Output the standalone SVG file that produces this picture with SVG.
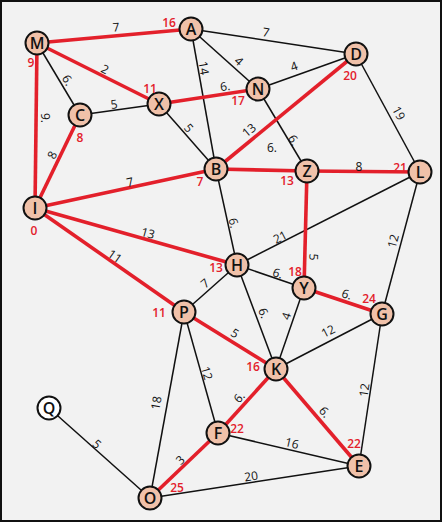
<svg xmlns="http://www.w3.org/2000/svg" width="442" height="522" viewBox="0 0 442 522">
<style>
.e{stroke:#111;stroke-width:1.5;fill:none}
.r{stroke:#e3202b;stroke-width:3.6;fill:none}
.n circle{fill:#f0c1a9;stroke:#111;stroke-width:2}
.n text{font-family:"Open Sans","Liberation Sans",sans-serif;font-size:16px;font-weight:600;fill:#111;text-anchor:middle;dominant-baseline:central}
.w{font-family:"Open Sans","Liberation Sans",sans-serif;font-size:12px;font-weight:500;fill:#111;text-anchor:middle;dominant-baseline:central}
.d{font-family:"Open Sans","Liberation Sans",sans-serif;font-size:12px;font-weight:600;fill:#e3202b;text-anchor:middle;dominant-baseline:central}
</style>
<rect x="1" y="1" width="440" height="520" fill="#f2f2f2" stroke="#111" stroke-width="2"/>
<g id="connectors">
<line class="e" x1="191" y1="29" x2="356" y2="54"/>
<line class="e" x1="191" y1="29" x2="258" y2="89"/>
<line class="e" x1="191" y1="29" x2="216" y2="169"/>
<line class="e" x1="258" y1="89" x2="356" y2="54"/>
<line class="e" x1="258" y1="89" x2="307" y2="171"/>
<line class="e" x1="356" y1="54" x2="420" y2="172"/>
<line class="e" x1="37" y1="43" x2="80" y2="115"/>
<line class="e" x1="80" y1="115" x2="159" y2="104"/>
<line class="e" x1="159" y1="104" x2="216" y2="169"/>
<line class="e" x1="216" y1="169" x2="237" y2="265"/>
<line class="e" x1="420" y1="172" x2="237" y2="265"/>
<line class="e" x1="420" y1="172" x2="382" y2="314"/>
<line class="e" x1="237" y1="265" x2="304" y2="288"/>
<line class="e" x1="237" y1="265" x2="184" y2="312"/>
<line class="e" x1="237" y1="265" x2="276" y2="369"/>
<line class="e" x1="304" y1="288" x2="276" y2="369"/>
<line class="e" x1="382" y1="314" x2="276" y2="369"/>
<line class="e" x1="382" y1="314" x2="359" y2="466"/>
<line class="e" x1="184" y1="312" x2="218" y2="433"/>
<line class="e" x1="184" y1="312" x2="150" y2="498"/>
<line class="e" x1="218" y1="433" x2="359" y2="466"/>
<line class="e" x1="150" y1="498" x2="359" y2="466"/>
<line class="e" x1="49" y1="408" x2="150" y2="498"/>
<line class="r" x1="37" y1="43" x2="191" y2="29"/>
<line class="r" x1="37" y1="43" x2="159" y2="104"/>
<line class="r" x1="37" y1="43" x2="35" y2="208"/>
<line class="r" x1="80" y1="115" x2="35" y2="208"/>
<line class="r" x1="159" y1="104" x2="258" y2="89"/>
<line class="r" x1="35" y1="208" x2="216" y2="169"/>
<line class="r" x1="216" y1="169" x2="356" y2="54"/>
<line class="r" x1="216" y1="169" x2="307" y2="171"/>
<line class="r" x1="307" y1="171" x2="420" y2="172"/>
<line class="r" x1="307" y1="171" x2="304" y2="288"/>
<line class="r" x1="35" y1="208" x2="237" y2="265"/>
<line class="r" x1="35" y1="208" x2="184" y2="312"/>
<line class="r" x1="184" y1="312" x2="276" y2="369"/>
<line class="r" x1="304" y1="288" x2="382" y2="314"/>
<line class="r" x1="276" y1="369" x2="218" y2="433"/>
<line class="r" x1="276" y1="369" x2="359" y2="466"/>
<line class="r" x1="218" y1="433" x2="150" y2="498"/>
</g>
<g id="weights">
<text class="w" transform="translate(116,27) rotate(-5)">7</text>
<text class="w" transform="translate(105,69) rotate(27)">2</text>
<text class="w" transform="translate(68,80) rotate(59)">6.</text>
<text class="w" transform="translate(45,118) rotate(90)">9.</text>
<text class="w" transform="translate(52,155) rotate(-64)">8</text>
<text class="w" transform="translate(114,104) rotate(-8)">5</text>
<text class="w" transform="translate(225,86) rotate(-8.5)">6.</text>
<text class="w" transform="translate(189,128) rotate(49)">5</text>
<text class="w" transform="translate(204,68) rotate(80)">14</text>
<text class="w" transform="translate(266,32) rotate(8.6)">7</text>
<text class="w" transform="translate(239,61) rotate(42)">4</text>
<text class="w" transform="translate(294,66) rotate(-20)">4</text>
<text class="w" transform="translate(249,130) rotate(-39.5)">13</text>
<text class="w" transform="translate(294,140) rotate(59)">6.</text>
<text class="w" transform="translate(272,147)">6.</text>
<text class="w" transform="translate(399,113) rotate(61)">19</text>
<text class="w" transform="translate(359,166)">8</text>
<text class="w" transform="translate(130,182) rotate(-12)">7</text>
<text class="w" transform="translate(148,233) rotate(15.7)">13</text>
<text class="w" transform="translate(115,256) rotate(35)">11</text>
<text class="w" transform="translate(205,283) rotate(-41)">7</text>
<text class="w" transform="translate(234,223) rotate(78)">6.</text>
<text class="w" transform="translate(280,237) rotate(-27)">21</text>
<text class="w" transform="translate(314,257) rotate(91)">5</text>
<text class="w" transform="translate(393,241) rotate(-75)">12</text>
<text class="w" transform="translate(278,273) rotate(18.6)">6.</text>
<text class="w" transform="translate(347,294) rotate(18.7)">6.</text>
<text class="w" transform="translate(264,313) rotate(69)">6.</text>
<text class="w" transform="translate(286,316) rotate(-71)">4</text>
<text class="w" transform="translate(328,331) rotate(-27)">12</text>
<text class="w" transform="translate(235,333) rotate(32)">5</text>
<text class="w" transform="translate(207,373) rotate(74)">12</text>
<text class="w" transform="translate(156,403) rotate(-80)">18</text>
<text class="w" transform="translate(97,444) rotate(42)">5</text>
<text class="w" transform="translate(180,460) rotate(-44)">3</text>
<text class="w" transform="translate(239,397) rotate(-48)">6.</text>
<text class="w" transform="translate(325,412) rotate(49.5)">6.</text>
<text class="w" transform="translate(364,390) rotate(-81.5)">12</text>
<text class="w" transform="translate(292,443) rotate(13)">16</text>
<text class="w" transform="translate(251,476) rotate(-8.7)">20</text>
</g>
<g id="node-M" class="n"><circle cx="37" cy="43" r="11.5"/><text x="37" y="43">M</text></g>
<g id="node-A" class="n"><circle cx="191" cy="29" r="11.5"/><text x="191" y="29">A</text></g>
<g id="node-D" class="n"><circle cx="356" cy="54" r="11.5"/><text x="356" y="54">D</text></g>
<g id="node-N" class="n"><circle cx="258" cy="89" r="11.5"/><text x="258" y="89">N</text></g>
<g id="node-X" class="n"><circle cx="159" cy="104" r="11.5"/><text x="159" y="104">X</text></g>
<g id="node-C" class="n"><circle cx="80" cy="115" r="11.5"/><text x="80" y="115">C</text></g>
<g id="node-B" class="n"><circle cx="216" cy="169" r="11.5"/><text x="216" y="169">B</text></g>
<g id="node-Z" class="n"><circle cx="307" cy="171" r="11.5"/><text x="307" y="171">Z</text></g>
<g id="node-L" class="n"><circle cx="420" cy="172" r="11.5"/><text x="420" y="172">L</text></g>
<g id="node-I" class="n"><circle cx="35" cy="208" r="11.5"/><text x="35" y="208">I</text></g>
<g id="node-H" class="n"><circle cx="237" cy="265" r="11.5"/><text x="237" y="265">H</text></g>
<g id="node-Y" class="n"><circle cx="304" cy="288" r="11.5"/><text x="304" y="288">Y</text></g>
<g id="node-G" class="n"><circle cx="382" cy="314" r="11.5"/><text x="382" y="314">G</text></g>
<g id="node-P" class="n"><circle cx="184" cy="312" r="11.5"/><text x="184" y="312">P</text></g>
<g id="node-K" class="n"><circle cx="276" cy="369" r="11.5"/><text x="276" y="369">K</text></g>
<g id="node-F" class="n"><circle cx="218" cy="433" r="11.5"/><text x="218" y="433">F</text></g>
<g id="node-E" class="n"><circle cx="359" cy="466" r="11.5"/><text x="359" y="466">E</text></g>
<g id="node-Q" class="n"><circle cx="49" cy="408" r="11.5" style="fill:#fff"/><text x="49" y="408">Q</text></g>
<g id="node-O" class="n"><circle cx="150" cy="498" r="11.5"/><text x="150" y="498">O</text></g>
<g id="distances">
<text class="d" x="169" y="22">16</text>
<text class="d" x="31" y="62">9</text>
<text class="d" x="150" y="88">11</text>
<text class="d" x="80" y="137">8</text>
<text class="d" x="238" y="100">17</text>
<text class="d" x="350" y="75">20</text>
<text class="d" x="200" y="181">7</text>
<text class="d" x="287" y="180">13</text>
<text class="d" x="400" y="167">21</text>
<text class="d" x="34" y="230">0</text>
<text class="d" x="216" y="267">13</text>
<text class="d" x="159" y="312">11</text>
<text class="d" x="295" y="271">18</text>
<text class="d" x="369" y="298">24</text>
<text class="d" x="253" y="366">16</text>
<text class="d" x="237" y="428">22</text>
<text class="d" x="354" y="443">22</text>
<text class="d" x="177" y="487">25</text>
</g>
</svg>
